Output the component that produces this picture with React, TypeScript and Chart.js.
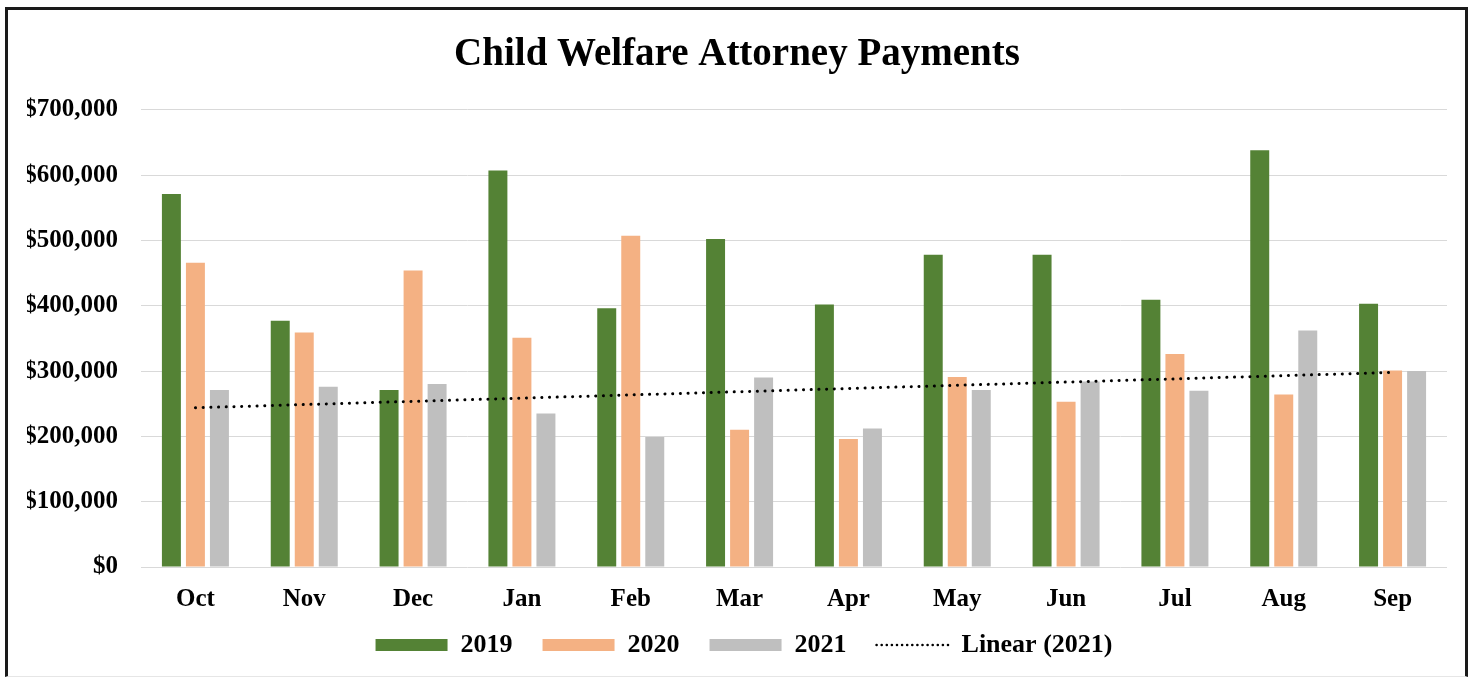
import { useEffect, useRef } from "react";
import { Chart, registerables } from "chart.js";

Chart.register(...registerables);

const months = ["Oct", "Nov", "Dec", "Jan", "Feb", "Mar", "Apr", "May", "Jun", "Jul", "Aug", "Sep"];
const payments2019 = [571000, 377000, 271000, 607000, 396000, 502000, 402000, 478000, 478000, 409000, 638000, 403000];
const payments2020 = [466000, 359000, 454000, 351000, 507000, 210000, 196000, 291000, 253000, 326000, 264000, 301000];
const payments2021 = [271000, 276000, 280000, 235000, 199000, 290000, 212000, 271000, 284000, 270000, 362000, 300000];
const yMin = 0;
const yMax = 700000;
const yStep = 100000;

const seriesLabels = ["2019", "2020", "2021", "Linear (2021)"];
const seriesColors = ["#548235", "#F4B183", "#BFBFBF", "#000000"];

// Excel-style linear trendline (least squares) of the 2021 series
function linearTrend(values: number[]): number[] {
  const n = values.length;
  const xs = values.map((_, i) => i);
  const mx = xs.reduce((a, b) => a + b, 0) / n;
  const my = values.reduce((a, b) => a + b, 0) / n;
  let sxy = 0;
  let sxx = 0;
  for (let i = 0; i < n; i++) {
    sxy += (xs[i] - mx) * (values[i] - my);
    sxx += (xs[i] - mx) * (xs[i] - mx);
  }
  const slope = sxy / sxx;
  const intercept = my - slope * mx;
  return xs.map((x) => intercept + slope * x);
}

const FONT = "'Liberation Serif', 'Times New Roman', Times, serif";

const legendPlacement = {
  id: "legendPlacement",
  beforeLayout(chart: any) {
    const lg = chart.legend;
    if (lg && !lg.__patched) {
      const orig = lg.fit.bind(lg);
      lg.fit = function () {
        orig();
        this.height = 58;
      };
      lg.__patched = true;
    }
  },
  afterLayout(chart: any) {
    const lg = chart.legend;
    if (lg) {
      lg.top -= 13;
      lg.bottom -= 13;
      lg.left += 7;
      lg.right += 7;
    }
  },
};

export default function App() {
  const canvasRef = useRef<HTMLCanvasElement | null>(null);

  useEffect(() => {
    if (!canvasRef.current) return;
    const trend = linearTrend(payments2021);
    const chart = new Chart(canvasRef.current, {
      type: "bar",
      data: {
        labels: months,
        datasets: [
          { label: seriesLabels[0], data: payments2019, backgroundColor: seriesColors[0], borderWidth: 0, order: 1 },
          { label: seriesLabels[1], data: payments2020, backgroundColor: seriesColors[1], borderWidth: 0, order: 1 },
          { label: seriesLabels[2], data: payments2021, backgroundColor: seriesColors[2], borderWidth: 0, order: 1 },
          {
            type: "line",
            label: seriesLabels[3],
            data: trend,
            borderColor: seriesColors[3],
            backgroundColor: "transparent",
            borderWidth: 3,
            borderDash: [0.1, 7.6],
            borderCapStyle: "round",
            pointRadius: 0,
            fill: false,
            order: 0,
          } as any,
        ],
      },
      options: {
        responsive: false,
        animation: false,
        events: [],
        datasets: {
          bar: { categoryPercentage: 0.662, barPercentage: 0.79 },
        },
        layout: { padding: { left: 27, right: 27, top: 0, bottom: 7 } },
        plugins: {
          tooltip: { enabled: false },
          title: {
            display: true,
            text: "Child Welfare Attorney Payments",
            color: "#000",
            font: { family: FONT, size: 39, weight: "bold" },
            padding: { top: 32, bottom: 31 },
          },
          legend: {
            position: "bottom",
            labels: {
              color: "#000",
              font: { family: FONT, size: 26, weight: "bold" },
              usePointStyle: true,
              pointStyleWidth: 72,
              boxHeight: 12,
              padding: 30,
              generateLabels: (chart: any) => {
                const items = (Chart.defaults.plugins.legend.labels as any).generateLabels(chart);
                items.sort((a: any, b: any) => a.datasetIndex - b.datasetIndex);
                return items.map((it: any) => {
                  const ds = chart.data.datasets[it.datasetIndex];
                  if (ds.type === "line") {
                    return { ...it, pointStyle: "line", lineWidth: 2.5, lineDash: [0.1, 5], lineCap: "round", strokeStyle: "#000" };
                  }
                  return { ...it, pointStyle: "rect", lineWidth: 0 };
                });
              },
            },
          },
        },
        scales: {
          x: {
            grid: { display: false, drawTicks: false },
            border: { display: false },
            ticks: {
              color: "#000",
              font: { family: FONT, size: 25, weight: "bold" },
              padding: 18,
            },
            afterFit: (scale: any) => {
              scale.height = 48;
            },
          },
          y: {
            min: yMin,
            max: yMax,
            grid: { color: "#d9d9d9", lineWidth: 1, drawTicks: false },
            border: { display: false },
            ticks: {
              stepSize: yStep,
              color: "#000",
              font: { family: FONT, size: 25, weight: "bold" },
              padding: 23,
              callback: (v: any) => "$" + Number(v).toLocaleString("en-US"),
            },
            afterFit: (scale: any) => {
              scale.width = 114;
            },
          },
        },
      },
      plugins: [legendPlacement],
    });
    return () => chart.destroy();
  }, []);

  return (
    <div style={{ position: "fixed", left: 0, top: 0, width: 1474, height: 680, overflow: "hidden", background: "#fff" }}>
      <canvas ref={canvasRef} width={1474} height={680} style={{ position: "absolute", left: 0, top: 0, width: 1474, height: 680 }} />
      <div
        style={{
          position: "absolute",
          left: 5,
          top: 7,
          width: 1457,
          height: 666,
          borderLeft: "3px solid #1a1a1a",
          borderTop: "3px solid #1a1a1a",
          borderRight: "3px solid #1a1a1a",
          borderBottom: "1px solid #e6e6e6",
          pointerEvents: "none",
        }}
      />
    </div>
  );
}
